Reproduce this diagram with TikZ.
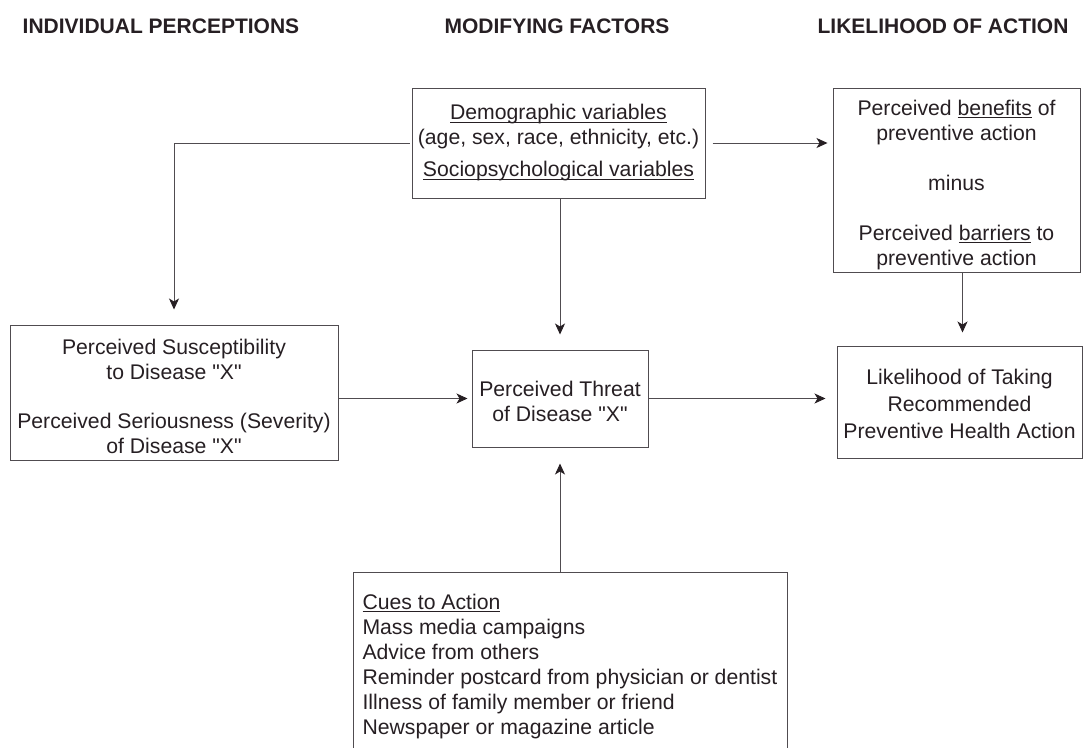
\documentclass[tikz,border=0pt]{standalone}
\usepackage{fontspec}
\setmainfont{Liberation Sans}[Ligatures=TeXOff]
\definecolor{ink}{RGB}{38, 31, 35}
\definecolor{rulegray}{RGB}{80, 76, 80}
\usetikzlibrary{arrows.meta, positioning, calc}
\newcommand{\uln}[1]{\leavevmode\setbox0\hbox{#1}\rlap{\rule[-2.5pt]{\wd0}{0.9pt}}\box0\relax}
\newcommand{\lift}[1]{\rule{0pt}{#1}}
\tikzset{
  heading/.style={font=\fontsize{21}{25}\selectfont\bfseries, text=ink, anchor=base},
  box/.style={draw=rulegray, line width=1pt, text=ink, align=center, inner sep=0pt,
    font=\fontsize{21.2}{25}\selectfont},
  conn/.style={draw=rulegray, line width=0.9pt, -{Stealth[length=11pt, width=10pt, inset=3pt, color=ink]}}
}

\begin{document}
\begin{tikzpicture}[x=1pt, y=-1pt]
  \useasboundingbox (0, 0) rectangle (1083, 747);

  % column headings
  \node[heading] (hind) at (161, 33) {INDIVIDUAL PERCEPTIONS};
  \node[heading] (hmod) at (557, 33) {MODIFYING FACTORS};
  \node[heading] (hlik) at (943, 33) {LIKELIHOOD OF ACTION};

  % modifying factors
  \node[box, minimum width=293, minimum height=110] (demo) at (558.5, 143) {
    \uln{Demographic variables}\\
    (age, sex, race, ethnicity, etc.)\\[7pt]
    \uln{Sociopsychological variables}
  };

  % benefits minus barriers
  \node[box, minimum width=247, minimum height=184] (ben) at (956.5, 180) {
    \lift{25.5pt}Perceived \uln{benefits} of\\
    preventive action\\[25pt]
    minus\\[25pt]
    Perceived \uln{barriers} to\\
    preventive action
  };

  % individual perceptions
  \node[box, minimum width=328, minimum height=135] (sus) at (174, 392.5) {
    \lift{23.5pt}Perceived Susceptibility\\
    to Disease "X"\\[24pt]
    Perceived Seriousness (Severity)\\
    of Disease "X"
  };

  \node[box, minimum width=176, minimum height=97] (threat) at (560, 398.5) {
    \lift{21.5pt}Perceived Threat\\
    of Disease "X"
  };

  \node[box, minimum width=245, minimum height=112] (like) at (959.5, 402) {
    \lift{19.5pt}Likelihood of Taking\\[2pt]
    Recommended\\[2pt]
    Preventive Health Action
  };

  % cues to action (box runs off the bottom)
  \node[box, anchor=north west, inner xsep=9pt, align=left] (cues) at (353, 572) {%
    \begin{minipage}[t][200pt][t]{416pt}
      \vspace*{22pt}
      \uln{Cues to Action}\\
      Mass media campaigns\\
      Advice from others\\
      Reminder postcard from physician or dentist\\
      Illness of family member or friend\\
      Newspaper or magazine article
    \end{minipage}%
  };

  % connectors
  \draw[conn, shorten <=2pt, shorten >=15pt] (demo.west) -| (sus.north);
  \draw[conn, shorten <=7pt, shorten >=5pt] (demo.east) -- (demo.east -| ben.west);
  \draw[conn, shorten >=15pt] (threat.north |- demo.south) -- (threat.north);
  \draw[conn, shorten >=13pt] ([xshift=3pt]like.north |- ben.south) -- ([xshift=3pt]like.north);
  \draw[conn, shorten >=4pt] (threat.west -| sus.east) -- (threat.west);
  \draw[conn, shorten >=11pt] (threat.east) -- (threat.east -| like.west);
  \draw[conn, shorten >=16pt] (cues.north -| threat.south) -- (threat.south);
\end{tikzpicture}
\end{document}
